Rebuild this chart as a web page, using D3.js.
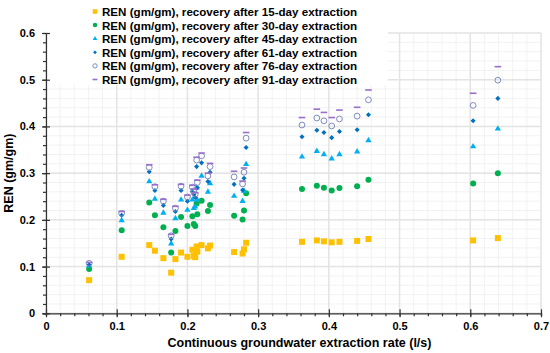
<!DOCTYPE html>
<html>
<head>
<meta charset="utf-8">
<script src="https://cdn.jsdelivr.net/npm/d3@7"></script>
<style>
  body { margin: 0; background: #fff; }
  text { font-family: "Liberation Sans", Arial, sans-serif; font-weight: bold; fill: #000; }
</style>
</head>
<body>
<div id="chart"></div>
<script>
// extraction rate (l/s) and REN (gm/gm) recovered after each extraction period
var rate  = [0.061, 0.107, 0.146, 0.154, 0.166, 0.177, 0.183, 0.191, 0.200, 0.207, 0.209, 0.211, 0.213, 0.214, 0.220, 0.229, 0.232, 0.266, 0.278, 0.280, 0.283, 0.362, 0.383, 0.393, 0.404, 0.415, 0.440, 0.456, 0.604, 0.639];
var ren15 = [0.071, 0.121, 0.146, 0.134, 0.118, 0.087, 0.116, 0.130, 0.121, 0.136, 0.123, 0.120, 0.143, 0.132, 0.146, 0.139, 0.145, 0.131, 0.128, 0.137, 0.151, 0.153, 0.156, 0.154, 0.152, 0.153, 0.155, 0.159, 0.156, 0.161];
var ren30 = [0.095, 0.178, 0.237, 0.210, 0.184, 0.130, 0.176, 0.206, 0.187, 0.208, 0.191, 0.187, 0.235, 0.212, 0.241, 0.219, 0.232, 0.209, 0.201, 0.220, 0.257, 0.266, 0.273, 0.269, 0.263, 0.268, 0.272, 0.286, 0.278, 0.300];
var ren45 = [0.102, 0.199, 0.282, 0.245, 0.215, 0.149, 0.203, 0.243, 0.221, 0.243, 0.225, 0.228, 0.269, 0.243, 0.294, 0.260, 0.278, 0.251, 0.240, 0.262, 0.319, 0.335, 0.347, 0.340, 0.331, 0.340, 0.346, 0.370, 0.357, 0.395];
var ren61 = [0.104, 0.210, 0.303, 0.263, 0.231, 0.159, 0.218, 0.263, 0.240, 0.260, 0.255, 0.248, 0.314, 0.269, 0.322, 0.282, 0.302, 0.276, 0.264, 0.289, 0.355, 0.378, 0.392, 0.387, 0.376, 0.389, 0.393, 0.425, 0.412, 0.460];
var ren76 = [0.107, 0.214, 0.312, 0.271, 0.240, 0.166, 0.225, 0.272, 0.249, 0.270, 0.262, 0.255, 0.328, 0.280, 0.337, 0.294, 0.314, 0.292, 0.277, 0.302, 0.375, 0.403, 0.418, 0.412, 0.401, 0.416, 0.422, 0.457, 0.445, 0.499];
var ren91 = [0.109, 0.218, 0.318, 0.275, 0.244, 0.169, 0.229, 0.276, 0.253, 0.274, 0.266, 0.258, 0.334, 0.285, 0.343, 0.300, 0.321, 0.304, 0.283, 0.311, 0.387, 0.419, 0.437, 0.430, 0.419, 0.435, 0.441, 0.478, 0.471, 0.528];

var days = ["15", "30", "45", "61", "76", "91"];
var xTicks = [0, 0.1, 0.2, 0.3, 0.4, 0.5, 0.6, 0.7];
var yTicks = [0, 0.1, 0.2, 0.3, 0.4, 0.5, 0.6];

var width = 550, height = 353;
var plotLeft = 46, plotRight = 541, plotTop = 33, plotBottom = 313.3;

var svg = d3.select("#chart").append("svg")
    .attr("width", width)
    .attr("height", height);

var x = d3.scaleLinear().domain([0, 0.7]).range([plotLeft, plotRight]);
var y = d3.scaleLinear().domain([0, 0.6]).range([plotBottom, plotTop]);

// minor grid
var minorX = d3.range(0, 0.7001, 0.02), minorY = d3.range(0, 0.6001, 0.02);
svg.append("g").selectAll("line").data(minorX).enter().append("line")
    .attr("x1", d => x(d)).attr("x2", d => x(d)).attr("y1", plotTop).attr("y2", plotBottom)
    .attr("stroke", "#f2f2f2").attr("stroke-width", 1);
svg.append("g").selectAll("line").data(minorY).enter().append("line")
    .attr("x1", plotLeft).attr("x2", plotRight).attr("y1", d => y(d)).attr("y2", d => y(d))
    .attr("stroke", "#f2f2f2").attr("stroke-width", 1);

// major grid
svg.append("g").selectAll("line").data(xTicks).enter().append("line")
    .attr("x1", d => x(d)).attr("x2", d => x(d)).attr("y1", plotTop).attr("y2", plotBottom)
    .attr("stroke", "#e4e4e4").attr("stroke-width", 1.5);
svg.append("g").selectAll("line").data(yTicks).enter().append("line")
    .attr("x1", plotLeft).attr("x2", plotRight).attr("y1", d => y(d)).attr("y2", d => y(d))
    .attr("stroke", "#e4e4e4").attr("stroke-width", 1.5);

// legend background hides the grid behind it
svg.append("rect")
    .attr("x", plotLeft + 1).attr("y", 0)
    .attr("width", 387 - plotLeft).attr("height", 85)
    .attr("fill", "#fff");

// axes: minor ticks first, then major ticks crossing the axis line
var xAxis = svg.append("g").attr("transform", "translate(0," + plotBottom + ")");
xAxis.call(d3.axisBottom(x).tickValues(minorX).tickSize(3).tickFormat(""));
var xMajor = xAxis.append("g").call(d3.axisBottom(x).tickValues(xTicks).tickSizeInner(4).tickSizeOuter(0).tickPadding(5).tickFormat(d3.format("")));
xMajor.select(".domain").remove();
xMajor.selectAll(".tick line").attr("y1", -4);
xAxis.selectAll("text").style("font-size", "11px");
xAxis.selectAll("path, line").attr("stroke", "#333").attr("stroke-width", 1.2);

var yAxis = svg.append("g").attr("transform", "translate(" + plotLeft + ",0)");
yAxis.call(d3.axisLeft(y).tickValues(minorY).tickSize(3).tickFormat(""));
var yMajor = yAxis.append("g").call(d3.axisLeft(y).tickValues(yTicks).tickSizeInner(4).tickSizeOuter(0).tickPadding(7).tickFormat(d3.format("")));
yMajor.select(".domain").remove();
yMajor.selectAll(".tick line").attr("x1", 4);
yAxis.selectAll("text").style("font-size", "11px");
yAxis.selectAll("path, line").attr("stroke", "#333").attr("stroke-width", 1.2);

// axis titles
svg.append("text")
    .attr("x", (plotLeft + plotRight) / 2 + 6).attr("y", 347)
    .attr("text-anchor", "middle")
    .style("font-size", "12.5px")
    .text("Continuous groundwater extraction rate (l/s)");
svg.append("text")
    .attr("transform", "translate(13," + ((plotTop + plotBottom) / 2) + ") rotate(-90)")
    .attr("text-anchor", "middle")
    .style("font-size", "12.5px")
    .text("REN (gm/gm)");

// marker drawers, k scales the marker size
var styles = [
    { data: ren15, draw: (g, k) => g.append("rect").attr("x", -3 * k).attr("y", -3 * k).attr("width", 6 * k).attr("height", 6 * k).attr("fill", "#ffc000") },
    { data: ren30, draw: (g, k) => g.append("circle").attr("r", 3 * k).attr("fill", "#00b050") },
    { data: ren45, draw: (g, k) => g.append("path").attr("d", d3.symbol(d3.symbolTriangle, 17 * k * k)()).attr("fill", "#00b0f0") },
    { data: ren61, draw: (g, k) => g.append("rect").attr("x", -1.8 * k).attr("y", -1.8 * k).attr("width", 3.6 * k).attr("height", 3.6 * k)
        .attr("transform", "rotate(45)").attr("fill", "#0070c0") },
    { data: ren76, draw: (g, k) => g.append("circle").attr("r", 2.9 * k).attr("fill", "none").attr("stroke", "#7f8cc0").attr("stroke-width", 1) },
    { data: ren91, draw: (g, k) => g.append("rect").attr("x", -3.3 * k).attr("y", -0.8).attr("width", 6.6 * k).attr("height", 1.6).attr("fill", "#9a6fcc") }
];

styles.forEach(function (s) {
    var pts = svg.append("g").selectAll("g")
        .data(rate.map((r, i) => ({ r: r, v: s.data[i] })))
        .enter().append("g")
        .attr("transform", d => "translate(" + x(d.r) + "," + y(d.v) + ")");
    s.draw(pts, 1);
});

// legend
var legend = svg.append("g");
days.forEach(function (d, i) {
    var row = legend.append("g").attr("transform", "translate(95," + (11.5 + i * 13.6) + ")");
    styles[i].draw(row, 0.75);
    row.append("text")
        .attr("x", 7).attr("y", 4.5)
        .style("font-size", "11.6px")
        .text("REN (gm/gm), recovery after " + d + "-day extraction");
});
</script>
</body>
</html>
